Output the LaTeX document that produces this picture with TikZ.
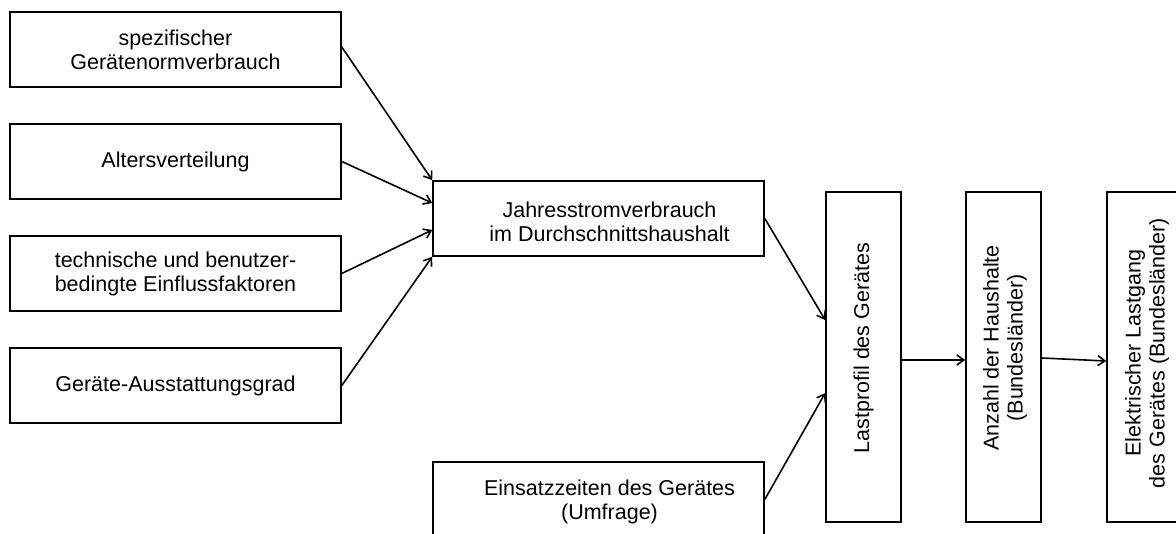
\documentclass[tikz,border=0pt]{standalone}
\usepackage{fontspec}
\setmainfont{Liberation Sans}
\usetikzlibrary{arrows.meta,calc}
\begin{document}
\begin{tikzpicture}[x=1pt,y=1pt,
  box/.style={draw,line width=1.6pt,minimum width=331pt,minimum height=75pt,inner sep=0pt,align=center,font=\fontsize{21.5}{24}\selectfont},
  vbox/.style={draw,line width=1.6pt,minimum width=75pt,minimum height=330pt,inner sep=0pt},
  lbl/.style={align=center,inner sep=0pt,font=\fontsize{21.5}{24}\selectfont},
  vlbl/.style={lbl,rotate=90},
  arr/.style={line width=1.6pt,-{Straight Barb[length=7pt,width=10pt,line width=1.6pt]}}]
\useasboundingbox (0,0) rectangle (1176,534);
\clip (0,0) rectangle (1176,534);
\node[box] (b1) at (175.5,484.5) {spezifischer\\Gerätenormverbrauch};
\node[box] (b2) at (175.5,372.5) {Altersverteilung};
\node[box] (b3) at (175.5,260.5) {technische und benutzer-\\bedingte Einflussfaktoren};
\node[box] (b4) at (175.5,148.5) {Geräte-Ausstattungsgrad};
\node[box] (jahr) at (598.5,315.5) {};
\node[lbl] (jahrt) at (609.5,312.5) {Jahresstromverbrauch\\im Durchschnittshaushalt};
\node[box] (eins) at (598.5,34.5) {};
\node[lbl] (einst) at (609.5,32) {Einsatzzeiten des Gerätes\\(Umfrage)};
\node[vbox] (last) at (863.5,177) {};
\node[vlbl] (lastt) at (863.5,186) {Lastprofil des Gerätes};
\node[vbox] (anz) at (1003.5,177) {};
\node[vlbl] (anzt) at (1005,186) {Anzahl der Haushalte\\(Bundesländer)};
\node[vbox] (elek) at (1144.5,177) {};
\node[vlbl] (elekt) at (1147,181) {Elektrischer Lastgang\\des Gerätes (Bundesländer)};
\draw[arr] ([yshift=2.5pt]b1.east) -- (jahr.north west);
\draw[arr] (b2.east) -- ([yshift=15.5pt]jahr.west);
\draw[arr] (b3.east) -- ([yshift=-11.5pt]jahr.west);
\draw[arr] (b4.east) -- (jahr.south west);
\draw[arr] (jahr.east) -- ([yshift=37pt]last.west);
\draw[arr] (eins.east) -- ([yshift=-36pt]last.west);
\draw[arr] ([yshift=-3pt]last.east) -- ([yshift=-3pt]anz.west);
\draw[arr] ([yshift=-1pt]anz.east) -- ([yshift=-4pt]elek.west);
\end{tikzpicture}
\end{document}
